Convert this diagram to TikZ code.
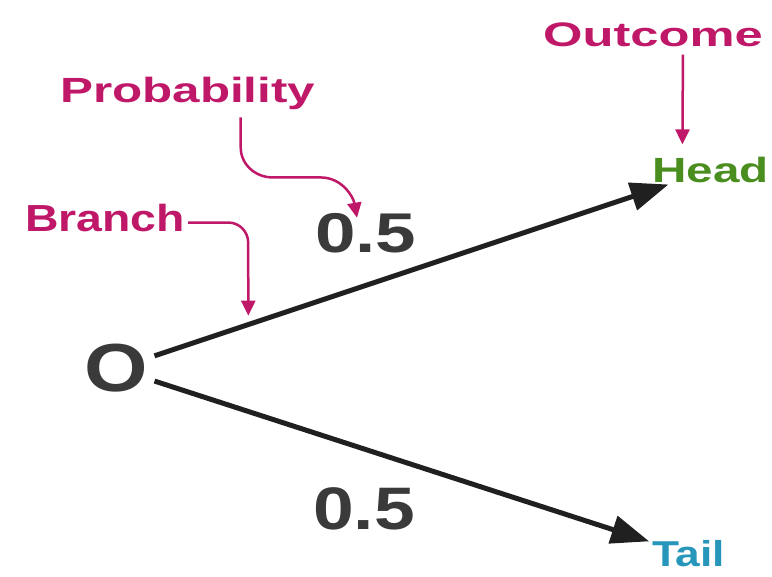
\documentclass[tikz,border=0pt]{standalone}
\usepackage{fontspec}
\setmainfont{Liberation Sans}
\usepackage{graphicx}
\usetikzlibrary{arrows.meta,calc}
\definecolor{tagpink}{RGB}{192,24,104}
\definecolor{headgreen}{RGB}{74,142,32}
\definecolor{tailblue}{RGB}{38,150,186}
\definecolor{numgrey}{RGB}{58,58,58}
\definecolor{branchgrey}{RGB}{32,32,32}
\newcommand\fs[1]{\bfseries\fontsize{#1}{#1}\selectfont}
\newcommand\widen[2]{\scalebox{#1}[1]{#2}}
\tikzset{
  lbl/.style={inner sep=0pt,anchor=base west},
  tag/.style={lbl,text=tagpink},
  num/.style={lbl,text=numgrey},
  brarrow/.style={-{Triangle[length=38pt,width=28pt]},line width=5pt,draw=branchgrey},
  tagarrow/.style={-{Triangle[length=15pt,width=14pt]},line width=2.5pt,draw=tagpink},
}

\begin{document}
\begin{tikzpicture}[x=1pt,y=1pt]
\useasboundingbox (0,0) rectangle (772,577);
% root and outcomes
\node[num,font=\fs{68}] (o) at (84,185) {\widen{1.2}{O}};
\node[lbl,text=headgreen,font=\fs{35}] (head) at (652,394) {\widen{1.36}{Head}};
\node[lbl,text=tailblue,font=\fs{36}] (tail) at (652,10) {\widen{1.23}{Tail}};

% branches
\draw[brarrow,shorten <=7pt,shorten >=3pt] (o) -- (head);
\draw[brarrow,shorten <=7pt,shorten >=3pt] (o) -- (tail);
\node[num,font=\fs{56}] (p1) at (315,324) {\widen{1.3}{0.5}};
\node[num,font=\fs{60}] (p2) at (313,47) {\widen{1.22}{0.5}};

% pink call-outs
\node[tag,font=\fs{35}] (prob) at (60,474) {\widen{1.41}{Probability}};
\node[tag,font=\fs{37.7}] (branch) at (25,345) {\widen{1.23}{Branch}};
\node[tag,font=\fs{34}] (outcome) at (543,530) {\widen{1.49}{Outcome}};

\draw[tagarrow] ($(outcome.south)+(30,-7)$) -- ($(head.north)+(-28,13)$);
\draw[tagarrow] ($(prob.south)+(53,-7)$) -- ++(0,-30) to[out=-90,in=180] ++(32,-30)
   -- ++(48,0) to[out=0,in=100] ($(p1.north west)+(42,-4)$);
\draw[tagarrow] ($(branch.east)+(3,-4)$) -- ++(40,0) to[out=0,in=90] ++(20,-20)
   -- ($(o)!0.247!(head.west)+(0,4)$);
\end{tikzpicture}
\end{document}
